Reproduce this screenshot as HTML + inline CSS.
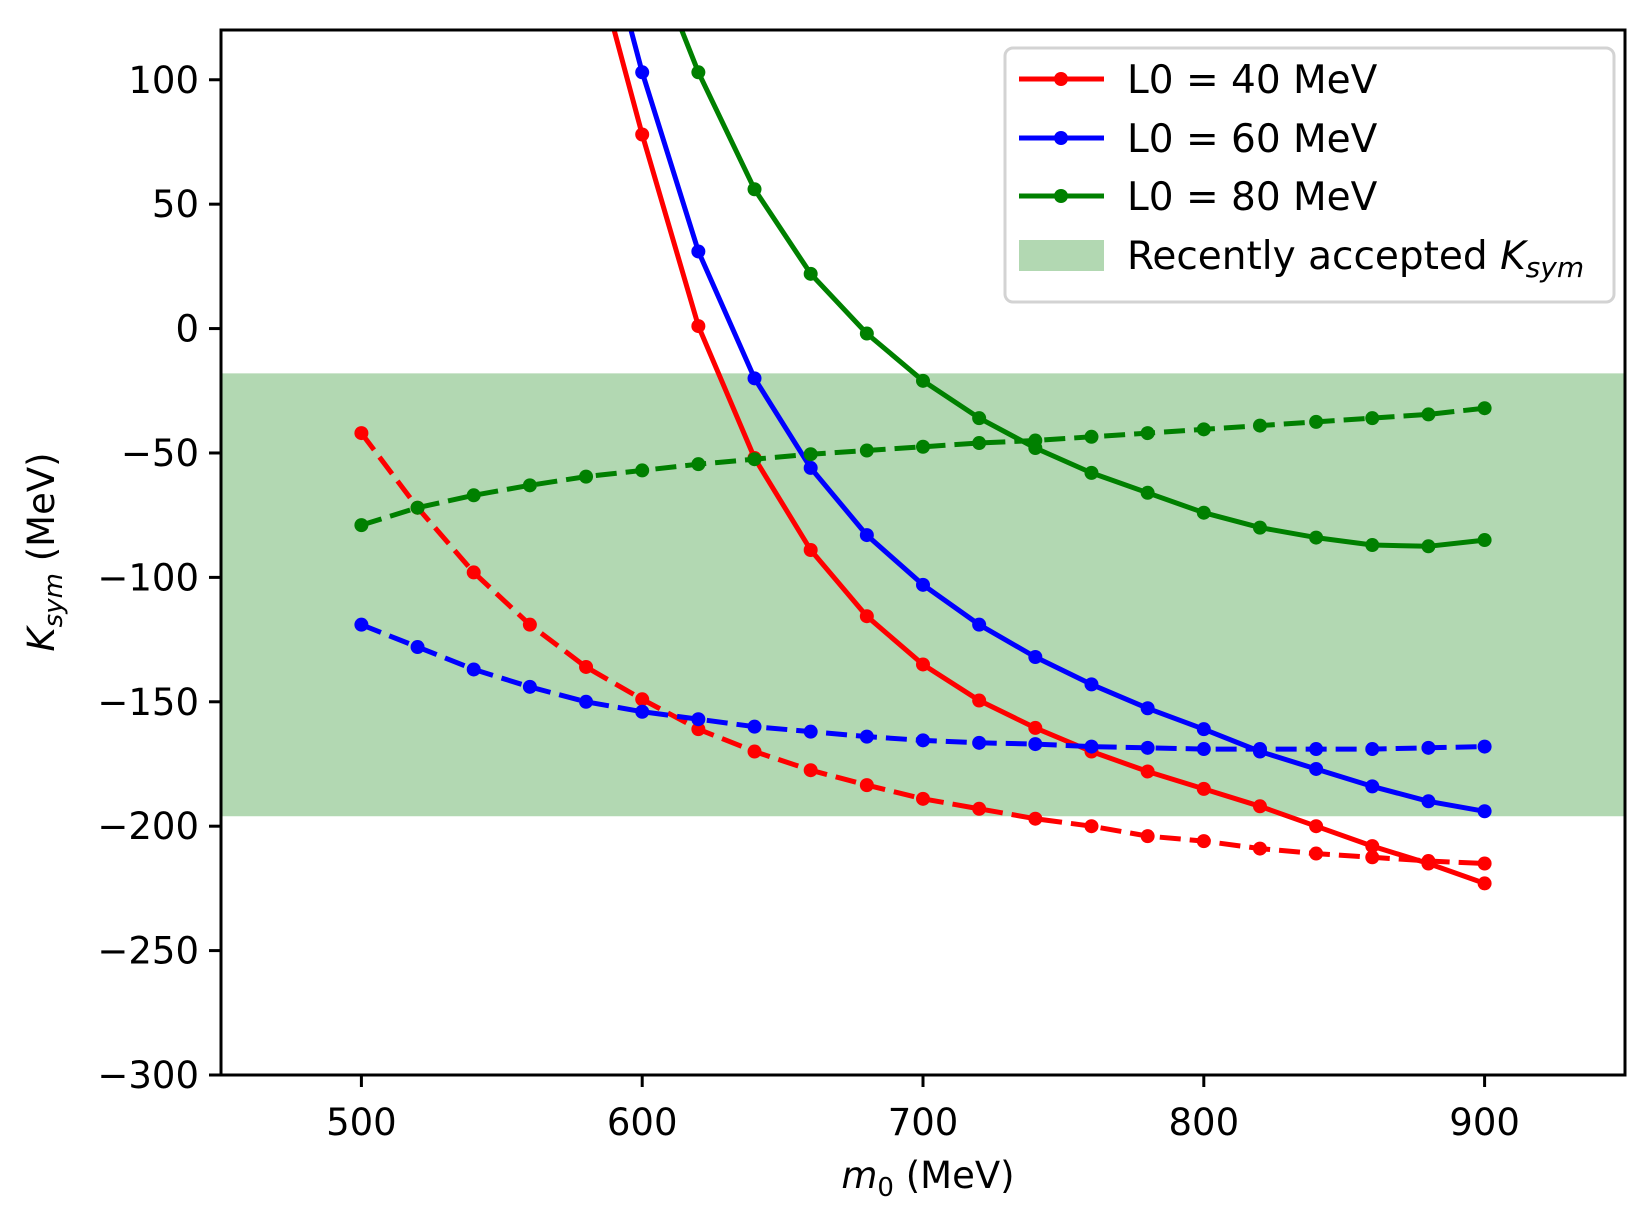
<!DOCTYPE html>
<html><head><meta charset="utf-8"><style>
body{margin:0;background:#fff;}
svg text{font-family:"DejaVu Sans","Liberation Sans",sans-serif;fill:#000;}
</style></head><body>
<svg id="chart" width="1651" height="1215" viewBox="0 0 1651 1215" xmlns="http://www.w3.org/2000/svg">
<defs><clipPath id="clip"><rect x="221" y="30" width="1404" height="1045"/></clipPath></defs>
<g id="plot" clip-path="url(#clip)"></g>
<g id="axes"></g>
</svg>
<script>
const xTicks=[500,600,700,800,900];
const yTicks=[-300,-250,-200,-150,-100,-50,0,50,100];
const band=[-196,-18];
const m0=[500,520,540,560,580,600,620,640,660,680,700,720,740,760,780,800,820,840,860,880,900];
const solidX40=[580,600,620,640,660,680,700,720,740,760,780,800,820,840,860,880,900];
const solid40=[162,78,1,-52,-89,-115.6,-135,-149.5,-160.5,-170,-178,-185,-192,-200,-208,-215,-223];
const solidX60=[580,600,620,640,660,680,700,720,740,760,780,800,820,840,860,880,900];
const solid60=[188,103,31,-20,-56,-83,-103,-119,-132,-143,-152.6,-161,-170,-177,-184,-190,-194];
const solidX80=[600,620,640,660,680,700,720,740,760,780,800,820,840,860,880,900];
const solid80=[160,103,56,22,-2,-21,-36,-48,-58,-66,-74,-80,-84,-87,-87.5,-85];
const dash40=[-42,-72,-98,-119,-136,-149,-161,-170,-177.5,-183.5,-189,-193,-197,-200,-204,-206,-209,-211,-212.5,-214,-215];
const dash60=[-119,-128,-137,-144,-150,-154,-157,-160,-162,-164,-165.5,-166.5,-167,-168,-168.5,-169,-169,-169,-169,-168.5,-168];
const dash80=[-79,-72,-67,-63,-59.5,-57,-54.5,-52.5,-50.5,-49,-47.5,-46,-45,-43.5,-42,-40.5,-39,-37.5,-36,-34.5,-32];

const L=221,R=1625,T=30,B=1075;
const X=v=>L+(v-450)/500*(R-L);
const Y=v=>B-(v+300)/420*(B-T);
const NS="http://www.w3.org/2000/svg";
function mk(tag,attrs,parent){const e=document.createElementNS(NS,tag);for(const k in attrs)e.setAttribute(k,attrs[k]);parent.appendChild(e);return e;}
const plot=document.getElementById('plot'),axes=document.getElementById('axes');

const bandEl=mk('rect',{x:L,y:Y(band[1]),width:R-L,height:Y(band[0])-Y(band[1]),fill:'#b2d8b2'},plot);



function series(xs,ys,color,dashed,name){
  const g=mk('g',{},plot);
  
  
  const pts=xs.map((x,i)=>X(x).toFixed(1)+','+Y(ys[i]).toFixed(1)).join(' ');
  const a={points:pts,fill:'none',stroke:color,'stroke-width':5,'stroke-linejoin':'round'};
  if(dashed)a['stroke-dasharray']='21,9';
  mk('polyline',a,g);
  xs.forEach((x,i)=>{const c=mk('circle',{cx:X(x),cy:Y(ys[i]),r:7,fill:color},g);
    
    });
}
series(solidX40,solid40,'#ff0000',false,'l0-40-solid');
series(solidX60,solid60,'#0000ff',false,'l0-60-solid');
series(solidX80,solid80,'#008000',false,'l0-80-solid');
series(m0,dash40,'#ff0000',true,'l0-40-dashed');
series(m0,dash60,'#0000ff',true,'l0-60-dashed');
series(m0,dash80,'#008000',true,'l0-80-dashed');

const frame=mk('rect',{x:L,y:T,width:R-L,height:B-T,fill:'none',stroke:'#000','stroke-width':3},axes);


xTicks.forEach(v=>{mk('line',{x1:X(v),x2:X(v),y1:B,y2:B+12,stroke:'#000','stroke-width':3},axes);
  const t=mk('text',{x:X(v),y:B+60,'font-size':37,'text-anchor':'middle'},axes);t.textContent=v;
  
  });
yTicks.forEach(v=>{mk('line',{x1:L-12,x2:L,y1:Y(v),y2:Y(v),stroke:'#000','stroke-width':3},axes);
  const t=mk('text',{x:L-22,y:Y(v)+13,'font-size':37,'text-anchor':'end'},axes);t.textContent=(v<0?'\u2212'+(-v):v);
  
  });
</script>
<svg style="position:absolute;left:0;top:0" width="1651" height="1215">
<text x="928" y="1188" font-size="37" text-anchor="middle" font-family="DejaVu Sans, Liberation Sans, sans-serif"><tspan font-style="italic">m</tspan><tspan font-size="26" dy="8">0</tspan><tspan dy="-8"> (MeV)</tspan></text>
<text transform="translate(54,552) rotate(-90)" font-size="37" text-anchor="middle" font-family="DejaVu Sans, Liberation Sans, sans-serif"><tspan font-style="italic">K</tspan><tspan font-style="italic" font-size="26" dy="8">sym</tspan><tspan dy="-8"> (MeV)</tspan></text>
<g font-family="DejaVu Sans, Liberation Sans, sans-serif" font-size="39">
<rect x="1005" y="48" width="609" height="254" rx="8" fill="#fff" fill-opacity="0.85" stroke="#d3d3d3" stroke-width="3"/>
<g><line x1="1019" x2="1104" y1="79" y2="79" stroke="#f00" stroke-width="5"/><circle cx="1061" cy="79" r="7" fill="#f00"/><text x="1127" y="93">L0 = 40 MeV</text></g>
<g><line x1="1019" x2="1104" y1="138" y2="138" stroke="#00f" stroke-width="5"/><circle cx="1061" cy="138" r="7" fill="#00f"/><text x="1127" y="152">L0 = 60 MeV</text></g>
<g><line x1="1019" x2="1104" y1="196" y2="196" stroke="#008000" stroke-width="5"/><circle cx="1061" cy="196" r="7" fill="#008000"/><text x="1127" y="210">L0 = 80 MeV</text></g>
<g><rect x="1019" y="240" width="85" height="31" fill="#b2d8b2"/><text x="1127" y="269">Recently accepted <tspan font-style="italic">K</tspan><tspan font-style="italic" font-size="28" dy="8">sym</tspan></text></g>
</g>
</svg>
</body></html>
